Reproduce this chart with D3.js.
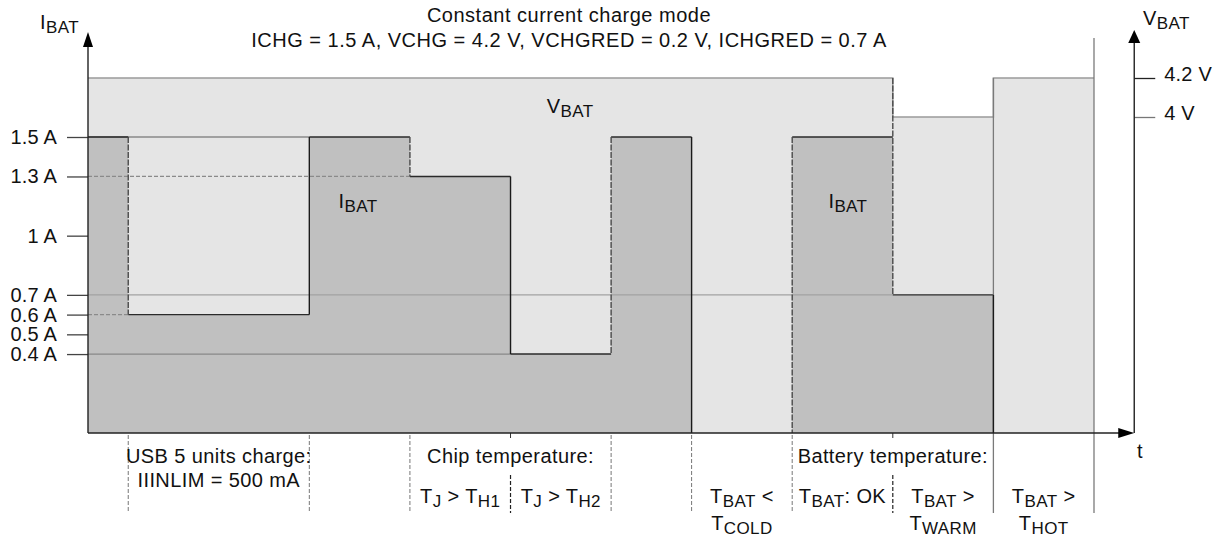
<!DOCTYPE html>
<html>
<head>
<meta charset="utf-8">
<script src="https://cdn.jsdelivr.net/npm/d3@7"></script>
<style>
  html, body { margin: 0; padding: 0; background: #fff; }
  text { font-family: "Liberation Sans", Arial, Helvetica, sans-serif; fill: #111; }
</style>
</head>
<body>
<div id="vis"></div>
<script>
// segment boundaries on the time axis and the value held in each segment
var tEdges = [0, 0.4, 2.2, 3.2, 4.2, 5.2, 6.0, 7.0, 8.0, 9.0, 10.0];
var iBat   = [1.5, 0.6, 1.5, 1.3, 0.4, 1.5, 0, 1.5, 0.7, 0];
var vBat   = [4.2, 4.2, 4.2, 4.2, 4.2, 4.2, 4.2, 4.2, 4.0, 4.2];

var iTicks  = [1.5, 1.3, 1.0, 0.7, 0.6, 0.5, 0.4];
var iLabels = ["1.5 A", "1.3 A", "1 A", "0.7 A", "0.6 A", "0.5 A", "0.4 A"];
var vTicks  = [4.2, 4.0];
var vLabels = ["4.2 V", "4 V"];

var titleLines = ["Constant current charge mode",
                  "ICHG = 1.5 A, VCHG = 4.2 V, VCHGRED = 0.2 V, ICHGRED = 0.7 A"];

// edges drawn dashed inside the plot
var dashedEdges = [0.4, 3.2, 5.2, 7.0, 8.0];
// separators under the time axis
var phaseSeps = [0.4, 2.2, 3.2, 5.2, 6.0, 7.0];
var subSeps   = [4.2, 8.0];
var solidSeps = [9.0, 10.0];

var phaseLabels = [
  { t: 1.3, row: 0, text: "USB 5 units charge:" },
  { t: 1.3, row: 1, text: "IIINLIM = 500 mA" },
  { t: 4.2, row: 0, text: "Chip temperature:" },
  { t: 3.7, row: 2, text: "T_{J} > T_{H1}" },
  { t: 4.7, row: 2, text: "T_{J} > T_{H2}" },
  { t: 8.0, row: 0, text: "Battery temperature:" },
  { t: 6.5, row: 2, text: "T_{BAT} <" },
  { t: 6.5, row: 3, text: "T_{COLD}" },
  { t: 7.5, row: 2, text: "T_{BAT}: OK" },
  { t: 8.5, row: 2, text: "T_{BAT} >" },
  { t: 8.5, row: 3, text: "T_{WARM}" },
  { t: 9.5, row: 2, text: "T_{BAT} >" },
  { t: 9.5, row: 3, text: "T_{HOT}" }
];

var width = 1223, height = 537;
var base = 433;
var rowY = [463, 487, 503, 530];

var svg = d3.select("#vis").append("svg")
  .attr("width", width)
  .attr("height", height);

var xT = d3.scaleLinear().domain([0, 10]).range([88, 1094]);
var yI = d3.scaleLinear().domain([0, 1.5]).range([base, 137]);
var yV = d3.scaleLinear().domain([4.0, 4.2]).range([117, 78]);

// text with _{sub} parts
function rich(sel, str, size, subSize) {
  sel.style("font-size", size + "px").style("letter-spacing", "0.4px");
  var parts = str.split(/(_\{[^}]*\})/);
  var shifted = false;
  parts.forEach(function (p) {
    if (!p) return;
    if (p.indexOf("_{") === 0) {
      sel.append("tspan").attr("dy", 4).style("font-size", subSize + "px").text(p.slice(2, -1));
      shifted = true;
    } else {
      var ts = sel.append("tspan").text(p);
      if (shifted) { ts.attr("dy", -4); shifted = false; }
    }
  });
}

function stepPoints(vals) {
  var pts = [];
  vals.forEach(function (v, i) {
    pts.push([tEdges[i], v]);
    pts.push([tEdges[i + 1], v]);
  });
  return pts;
}

// VBAT area
var vPts = stepPoints(vBat);
svg.append("path")
  .attr("d", d3.area().x(d => xT(d[0])).y0(base).y1(d => yV(d[1]))(vPts))
  .attr("fill", "#e5e5e5");

// IBAT area
var iPts = stepPoints(iBat);
svg.append("path")
  .attr("d", d3.area().x(d => xT(d[0])).y0(base).y1(d => yI(d[1]))(iPts))
  .attr("fill", "#c0c0c0");

// VBAT outline
svg.append("path")
  .attr("d", d3.line().x(d => xT(d[0])).y(d => yV(d[1]))(vPts))
  .attr("fill", "none")
  .attr("stroke", "#9a9a9a")
  .attr("stroke-width", 1.5);

// guide lines from the axis to where that current level starts
iTicks.forEach(function (v) {
  var idx = iBat.findIndex((d, i) => i > 0 && d === v);
  if (idx < 1) return;
  var dashed = iBat[idx - 1] > v && idx < 4;
  svg.append("line")
    .attr("x1", xT(0)).attr("x2", xT(tEdges[idx]))
    .attr("y1", yI(v)).attr("y2", yI(v))
    .attr("stroke", dashed ? "#8a8a8a" : (v === 0.7 ? "#a2a2a2" : "#888"))
    .attr("stroke-width", 1.3)
    .attr("stroke-dasharray", dashed ? "4,2" : null);
});

// IBAT outline: horizontal tops
iBat.forEach(function (v, i) {
  if (v <= 0) return;
  svg.append("line")
    .attr("x1", xT(tEdges[i])).attr("x2", xT(tEdges[i + 1]))
    .attr("y1", yI(v)).attr("y2", yI(v))
    .attr("stroke", "#2a2a2a").attr("stroke-width", 1.4);
});

// gray full separators inside plot
solidSeps.forEach(function (t, k) {
  var top = k === solidSeps.length - 1 ? 38 : yV(4.2);
  svg.append("line")
    .attr("x1", xT(t)).attr("x2", xT(t))
    .attr("y1", top).attr("y2", 513)
    .attr("stroke", "#7a7a7a").attr("stroke-width", 1.3);
});

// IBAT vertical edges
for (var i = 1; i < iBat.length; i++) {
  var a = iBat[i - 1], b = iBat[i];
  var t = tEdges[i];
  var y1 = yI(Math.max(a, b)), y2 = yI(Math.min(a, b));
  if (vBat[i - 1] !== vBat[i] && dashedEdges.indexOf(t) >= 0) y1 = yV(Math.max(vBat[i - 1], vBat[i]));
  if (a === b) continue;
  var dashed = dashedEdges.indexOf(t) >= 0;
  svg.append("line")
    .attr("x1", xT(t)).attr("x2", xT(t))
    .attr("y1", y1).attr("y2", y2)
    .attr("stroke", dashed ? "#4a4a4a" : "#1a1a1a")
    .attr("stroke-width", 1.4)
    .attr("stroke-dasharray", dashed ? "6,1.5" : null);
}

// separators under the axis
phaseSeps.forEach(function (t) {
  svg.append("line")
    .attr("x1", xT(t)).attr("x2", xT(t)).attr("y1", base + 2).attr("y2", 513)
    .attr("stroke", "#777").attr("stroke-width", 1).attr("stroke-dasharray", "4,2");
});
subSeps.forEach(function (t) {
  svg.append("line")
    .attr("x1", xT(t)).attr("x2", xT(t)).attr("y1", base).attr("y2", base + 5)
    .attr("stroke", "#333").attr("stroke-width", 1);
  svg.append("line")
    .attr("x1", xT(t)).attr("x2", xT(t)).attr("y1", 475).attr("y2", 513)
    .attr("stroke", "#222").attr("stroke-width", 1.2).attr("stroke-dasharray", "4,2");
});

// left axis
var yAxis = svg.append("g")
  .attr("transform", "translate(" + xT(0) + ",0)")
  .call(d3.axisLeft(yI).tickValues(iTicks)
        .tickFormat((d, i) => iLabels[i]).tickSize(21).tickPadding(10))
  .call(g => g.select(".domain").remove());
yAxis.selectAll(".tick line").attr("stroke", "#444").attr("stroke-width", 1.3);
yAxis.selectAll(".tick text")
  .style("font-size", "20px")
  .style("letter-spacing", "0.2px")
  .attr("fill", "#111")
  .style("font-family", "'Liberation Sans', Arial, sans-serif");

// right axis
var xR = xT(10.4);
var vAxis = svg.append("g")
  .attr("transform", "translate(" + xR + ",0)")
  .call(d3.axisRight(yV).tickValues(vTicks)
        .tickFormat((d, i) => vLabels[i]).tickSize(21).tickPadding(9))
  .call(g => g.select(".domain").remove());
vAxis.selectAll(".tick line").attr("stroke", (d, i) => i === 0 ? "#222" : "#777").attr("stroke-width", 1.3);
vAxis.selectAll(".tick text")
  .style("font-size", "20px")
  .style("letter-spacing", "0.2px")
  .attr("fill", "#111")
  .attr("dy", "0.1em")
  .style("font-family", "'Liberation Sans', Arial, sans-serif");

// axis lines and arrows
svg.append("line").attr("x1", xT(0)).attr("x2", xT(0)).attr("y1", base).attr("y2", 45)
  .attr("stroke", "#222").attr("stroke-width", 1.4);
svg.append("path").attr("d", d3.line()([[xT(0), 32], [xT(0) - 5, 47], [xT(0) + 5, 47]]) + "Z").attr("fill", "#000");

svg.append("line").attr("x1", xR).attr("x2", xR).attr("y1", base).attr("y2", 42)
  .attr("stroke", "#222").attr("stroke-width", 1.4);
svg.append("path").attr("d", d3.line()([[xR, 30], [xR - 6, 43], [xR + 6, 43]]) + "Z").attr("fill", "#000");

svg.append("line").attr("x1", xT(0)).attr("x2", xR - 14).attr("y1", base).attr("y2", base)
  .attr("stroke", "#222").attr("stroke-width", 1.6);
svg.append("path").attr("d", d3.line()([[xR, base], [xR - 16, base - 5], [xR - 16, base + 5]]) + "Z").attr("fill", "#000");

// axis titles
rich(svg.append("text").attr("x", 40).attr("y", 29), "I_{BAT}", 20, 17);
rich(svg.append("text").attr("x", 1143).attr("y", 25), "V_{BAT}", 20, 17);
rich(svg.append("text").attr("x", 1137).attr("y", 458), "t", 20, 17);

// in-plot labels
rich(svg.append("text").attr("x", xT(4.56)).attr("y", 113), "V_{BAT}", 20, 17);
rich(svg.append("text").attr("x", xT(2.49)).attr("y", 208), "I_{BAT}", 20, 17);
rich(svg.append("text").attr("x", xT(7.36)).attr("y", 208), "I_{BAT}", 20, 17);

// title
titleLines.forEach(function (s, k) {
  svg.append("text")
    .attr("x", 569).attr("y", k === 0 ? 22 : 47)
    .attr("text-anchor", "middle")
    .style("font-size", "20px")
    .style("letter-spacing", "0.5px")
    .text(s);
});

// phase labels under the axis
phaseLabels.forEach(function (d) {
  rich(svg.append("text")
    .attr("x", xT(d.t)).attr("y", rowY[d.row])
    .attr("text-anchor", "middle"), d.text, 20, 17);
});
</script>
</body>
</html>
